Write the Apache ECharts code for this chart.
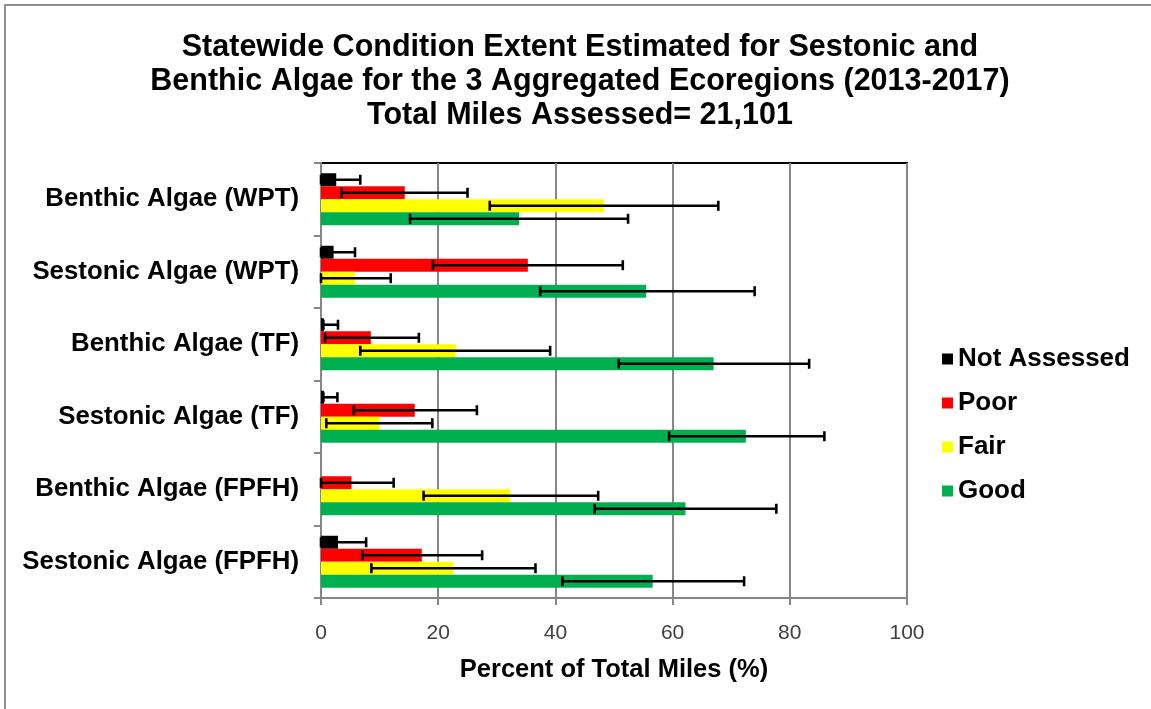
<!DOCTYPE html>
<html>
<head>
<meta charset="utf-8">
<script src="https://cdn.jsdelivr.net/npm/echarts@6/dist/echarts.min.js"></script>
<style>
html,body{margin:0;padding:0;background:#fff;}
#chart{width:1151px;height:709px;}
</style>
</head>
<body>
<div id="chart"></div>
<script>
const categories = ['Benthic Algae (WPT)', 'Sestonic Algae (WPT)', 'Benthic Algae (TF)', 'Sestonic Algae (TF)', 'Benthic Algae (FPFH)', 'Sestonic Algae (FPFH)'];
const seriesNames = ['Not Assessed', 'Poor', 'Fair', 'Good'];
const xTicks = [0, 20, 40, 60, 80, 100];

const notAssessed = [2.6, 2.15, 0.5, 0.5, 0, 2.9];
const notAssessedLow = [0, 0, 0.4, 0.4, null, 0];
const notAssessedHigh = [6.7, 5.8, 2.9, 2.8, null, 7.7];

const poor = [14.3, 35.3, 8.5, 16.0, 5.2, 17.2];
const poorLow = [3.5, 19.1, 0.7, 5.6, 0, 7.1];
const poorHigh = [25.0, 51.5, 16.7, 26.6, 12.4, 27.5];

const fair = [48.3, 5.8, 23.0, 10.0, 32.3, 22.6];
const fairLow = [28.8, 0, 6.7, 0.9, 17.5, 8.6];
const fairHigh = [67.8, 11.9, 39.1, 19.0, 47.3, 36.6];

const good = [33.8, 55.5, 67.0, 72.5, 62.2, 56.6];
const goodLow = [15.2, 37.4, 50.8, 59.4, 46.7, 41.2];
const goodHigh = [52.4, 74.0, 83.3, 85.9, 77.7, 72.2];

const colors = ['#000000', '#FF0000', '#FFFF00', '#00B050'];
const BAR_W = 13;
const FONT = '"Liberation Sans", Arial, sans-serif';

function barSeries(name, values, color) {
  return {
    type: 'bar', name: name, data: values, barWidth: BAR_W, barGap: '0%',
    itemStyle: { color: color }, z: 2
  };
}

function errSeries(lowArr, highArr, k) {
  const data = [];
  categories.forEach((c, i) => {
    if (lowArr[i] != null && highArr[i] != null) data.push([i, lowArr[i], highArr[i]]);
  });
  return {
    type: 'custom',
    name: 'err' + k,
    encode: { x: [1, 2], y: 0 },
    data: data,
    z: 5,
    silent: true,
    renderItem: function (params, api) {
      const cat = api.value(0);
      const p1 = api.coord([api.value(1), cat]);
      const p2 = api.coord([api.value(2), cat]);
      const y = p1[1] + (k - 1.5) * BAR_W;
      const h = 5;
      const st = { stroke: '#000', lineWidth: 2.6 };
      return {
        type: 'group',
        children: [
          { type: 'line', shape: { x1: p1[0], y1: y, x2: p2[0], y2: y }, style: st },
          { type: 'line', shape: { x1: p1[0], y1: y - h, x2: p1[0], y2: y + h }, style: st },
          { type: 'line', shape: { x1: p2[0], y1: y - h, x2: p2[0], y2: y + h }, style: st }
        ]
      };
    }
  };
}

const chart = echarts.init(document.getElementById('chart'), null, { renderer: 'canvas' });
chart.setOption({
  animation: false,
  backgroundColor: '#ffffff',
  textStyle: { fontFamily: FONT },
  graphic: [
    { type: 'rect', shape: { x: 5, y: 5, width: 1200, height: 800 }, style: { fill: 'none', stroke: '#8f8f8f', lineWidth: 2 }, z: -10, silent: true },
    { type: 'text', x: 580, y: 31, style: {
        text: 'Statewide Condition Extent Estimated for Sestonic and\nBenthic Algae for the 3 Aggregated Ecoregions (2013-2017)\nTotal Miles Assessed= 21,101',
        font: 'bold 30.5px ' + FONT, lineHeight: 34, align: 'center', verticalAlign: 'top', fill: '#000'
      }, silent: true }
  ],
  legend: {
    data: seriesNames,
    orient: 'vertical',
    left: 937,
    top: 340,
    itemWidth: 11,
    itemHeight: 11,
    itemGap: 16,
    icon: 'rect',
    textStyle: { fontFamily: FONT, fontWeight: 'bold', fontSize: 26, color: '#000', lineHeight: 28, padding: [0, 0, 0, 0] },
    selectedMode: false
  },
  grid: {
    left: 321, right: 244, top: 163, bottom: 111,
    show: true, borderColor: '#000', borderWidth: 2, backgroundColor: 'transparent'
  },
  xAxis: {
    type: 'value', min: 0, max: 100, interval: 20,
    axisLine: { show: true, lineStyle: { color: '#868686', width: 2 } },
    axisTick: { show: true, length: 7, lineStyle: { color: '#868686', width: 2 } },
    splitLine: { show: true, lineStyle: { color: '#878787', width: 2 } },
    axisLabel: { fontFamily: FONT, fontSize: 21, color: '#404040', margin: 25,
      formatter: v => (xTicks.indexOf(v) >= 0 ? String(v) : '') },
    name: 'Percent of Total Miles (%)',
    nameLocation: 'middle',
    nameGap: 59,
    nameTextStyle: { fontFamily: FONT, fontWeight: 'bold', fontSize: 25.5, color: '#000' }
  },
  yAxis: {
    type: 'category', data: categories, inverse: true,
    axisLine: { show: true, lineStyle: { color: '#868686', width: 2 } },
    axisTick: { show: true, length: 7, lineStyle: { color: '#868686', width: 2 } },
    axisLabel: { fontFamily: FONT, fontWeight: 'bold', fontSize: 25.8, color: '#000', margin: 22 },
    splitLine: { show: false }
  },
  series: [
    barSeries(seriesNames[0], notAssessed, colors[0]),
    barSeries(seriesNames[1], poor, colors[1]),
    barSeries(seriesNames[2], fair, colors[2]),
    barSeries(seriesNames[3], good, colors[3]),
    errSeries(notAssessedLow, notAssessedHigh, 0),
    errSeries(poorLow, poorHigh, 1),
    errSeries(fairLow, fairHigh, 2),
    errSeries(goodLow, goodHigh, 3)
  ]
});
</script>
</body>
</html>
